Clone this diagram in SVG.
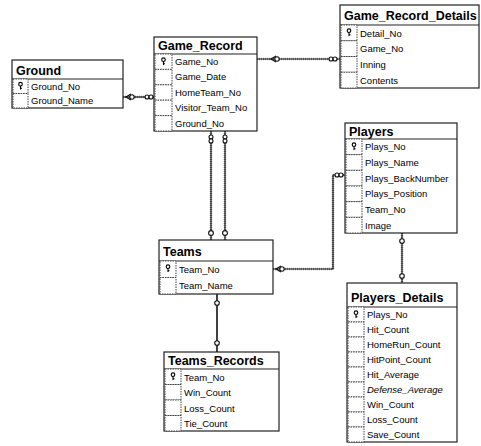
<svg xmlns="http://www.w3.org/2000/svg" width="481" height="446" viewBox="0 0 481 446">
<style>
.box{fill:#fff;stroke:#222;stroke-width:1.2}
.sep{stroke:#222;stroke-width:1.2}
.cell{fill:#fff;stroke:#444;stroke-width:1;stroke-dasharray:1.5 1}
.title{font-family:"Liberation Sans",Arial,sans-serif;font-weight:bold;font-size:12.5px;fill:#000}
.fld{font-family:"Liberation Sans",Arial,sans-serif;font-size:9.5px;fill:#000}
.it{font-style:italic}
.shade{fill:none;stroke:#999;stroke-width:2.6;stroke-dasharray:1 1}
.ln{fill:none;stroke:#111;stroke-width:1.2}
.mk{fill:#fff;stroke:#111;stroke-width:1.1}
</style>
<defs>
<g id="key"><circle cx="0" cy="-1.8" r="1.8" fill="none" stroke="#000" stroke-width="1.1"/><path d="M0,0 V3.5 M0,2.2 H1.5" stroke="#000" stroke-width="1.1" fill="none"/></g>
</defs>

<g id="connectors">
  <!-- Ground - Game_Record -->
  <path class="shade" d="M123,97 H154"/>
  <path class="ln" d="M123,97 H154"/>
  <path class="ln" d="M131,94 L126,97 L131,100"/>
  <circle class="mk" cx="132" cy="97" r="2.2"/>
  <circle class="mk" cx="147" cy="97" r="2"/><circle class="mk" cx="151" cy="97" r="2"/>
  <!-- Game_Record - Game_Record_Details -->
  <path class="shade" d="M257,59 H340"/>
  <path class="ln" d="M257,59 H340"/>
  <path class="ln" d="M276,56 L271,59 L276,62"/>
  <circle class="mk" cx="277" cy="59" r="2.2"/>
  <circle class="mk" cx="331" cy="59" r="2"/><circle class="mk" cx="335" cy="59" r="2"/>
  <!-- Game_Record - Teams (two) -->
  <path class="shade" d="M211,131 V240"/>
  <path class="ln" d="M211,131 V240"/>
  <path class="shade" d="M225,131 V240"/>
  <path class="ln" d="M225,131 V240"/>
  <circle class="mk" cx="211" cy="137" r="2"/><circle class="mk" cx="211" cy="141" r="2"/>
  <circle class="mk" cx="225" cy="137" r="2"/><circle class="mk" cx="225" cy="141" r="2"/>
  <circle class="mk" cx="211" cy="233" r="2.4"/>
  <circle class="mk" cx="225" cy="233" r="2.4"/>
  <!-- Teams - Players -->
  <path class="shade" d="M273,269 H333 V175 H345"/>
  <path class="ln" d="M273,269 H333 V175 H345"/>
  <path class="ln" d="M281,266 L276,269 L281,272"/>
  <circle class="mk" cx="282" cy="269" r="2.2"/>
  <circle class="mk" cx="337" cy="175" r="2"/><circle class="mk" cx="341" cy="175" r="2"/>
  <!-- Players - Players_Details -->
  <path class="shade" d="M402,233 V283"/>
  <path class="ln" d="M402,233 V283"/>
  <circle class="mk" cx="402" cy="241" r="2.3"/>
  <circle class="mk" cx="402" cy="276" r="2.3"/>
  <!-- Teams - Teams_Records -->
  <path class="ln" d="M217,294 V352" style="stroke-width:1.6"/>
  <circle class="mk" cx="217" cy="303" r="2.3"/>
  <circle class="mk" cx="217" cy="343" r="2.3"/>
</g>

<g id="Ground">
  <rect class="box" x="12" y="60" width="111" height="48"/>
  <text class="title" x="16" y="75">Ground</text>
  <line class="sep" x1="12" y1="79" x2="123" y2="79"/>
  <rect class="cell" x="13" y="79" width="15" height="14.5"/>
  <rect class="cell" x="13" y="93.5" width="15" height="14.5"/>
  <use href="#key" x="20.5" y="86"/>
  <text class="fld" x="31" y="89.5">Ground_No</text>
  <text class="fld" x="31" y="104">Ground_Name</text>
</g>

<g id="Game_Record">
  <rect class="box" x="154" y="37" width="103" height="94"/>
  <text class="title" x="158" y="50">Game_Record</text>
  <line class="sep" x1="154" y1="54" x2="257" y2="54"/>
  <rect class="cell" x="155" y="54" width="17" height="15.4"/>
  <rect class="cell" x="155" y="69.4" width="17" height="15.4"/>
  <rect class="cell" x="155" y="84.8" width="17" height="15.4"/>
  <rect class="cell" x="155" y="100.2" width="17" height="15.4"/>
  <rect class="cell" x="155" y="115.6" width="17" height="15.4"/>
  <use href="#key" x="163.5" y="61.5"/>
  <text class="fld" x="175" y="65">Game_No</text>
  <text class="fld" x="175" y="80.4">Game_Date</text>
  <text class="fld" x="175" y="95.8">HomeTeam_No</text>
  <text class="fld" x="175" y="111.2">Visitor_Team_No</text>
  <text class="fld" x="175" y="126.6">Ground_No</text>
</g>

<g id="Game_Record_Details">
  <rect class="box" x="340" y="5" width="139" height="83"/>
  <text class="title" x="344" y="20">Game_Record_Details</text>
  <line class="sep" x1="340" y1="25" x2="479" y2="25"/>
  <rect class="cell" x="341" y="25" width="16" height="15.75"/>
  <rect class="cell" x="341" y="40.75" width="16" height="15.75"/>
  <rect class="cell" x="341" y="56.5" width="16" height="15.75"/>
  <rect class="cell" x="341" y="72.25" width="16" height="15.75"/>
  <use href="#key" x="349" y="32.5"/>
  <text class="fld" x="360" y="36.5">Detail_No</text>
  <text class="fld" x="360" y="52.2">Game_No</text>
  <text class="fld" x="360" y="68">Inning</text>
  <text class="fld" x="360" y="83.7">Contents</text>
</g>

<g id="Players">
  <rect class="box" x="345" y="123" width="112" height="110"/>
  <text class="title" x="349" y="136">Players</text>
  <line class="sep" x1="345" y1="139" x2="457" y2="139"/>
  <rect class="cell" x="346" y="139" width="16" height="15.67"/>
  <rect class="cell" x="346" y="154.67" width="16" height="15.67"/>
  <rect class="cell" x="346" y="170.33" width="16" height="15.67"/>
  <rect class="cell" x="346" y="186" width="16" height="15.67"/>
  <rect class="cell" x="346" y="201.67" width="16" height="15.67"/>
  <rect class="cell" x="346" y="217.33" width="16" height="15.67"/>
  <use href="#key" x="354" y="146.5"/>
  <text class="fld" x="365" y="150.3">Plays_No</text>
  <text class="fld" x="365" y="166">Plays_Name</text>
  <text class="fld" x="365" y="181.6">Plays_BackNumber</text>
  <text class="fld" x="365" y="197.3">Plays_Position</text>
  <text class="fld" x="365" y="213">Team_No</text>
  <text class="fld" x="365" y="228.6">Image</text>
</g>

<g id="Teams">
  <rect class="box" x="159" y="240" width="114" height="54"/>
  <text class="title" x="163" y="256">Teams</text>
  <line class="sep" x1="159" y1="261" x2="273" y2="261"/>
  <rect class="cell" x="160" y="261" width="16" height="16.5"/>
  <rect class="cell" x="160" y="277.5" width="16" height="16.5"/>
  <use href="#key" x="168" y="268.5"/>
  <text class="fld" x="179" y="272.5">Team_No</text>
  <text class="fld" x="179" y="289">Team_Name</text>
</g>

<g id="Teams_Records">
  <rect class="box" x="164" y="352" width="115" height="79"/>
  <text class="title" x="168" y="365">Teams_Records</text>
  <line class="sep" x1="164" y1="369" x2="279" y2="369"/>
  <rect class="cell" x="165" y="369" width="16" height="15.5"/>
  <rect class="cell" x="165" y="384.5" width="16" height="15.5"/>
  <rect class="cell" x="165" y="400" width="16" height="15.5"/>
  <rect class="cell" x="165" y="415.5" width="16" height="15.5"/>
  <use href="#key" x="173" y="376.5"/>
  <text class="fld" x="184" y="380.5">Team_No</text>
  <text class="fld" x="184" y="396">Win_Count</text>
  <text class="fld" x="184" y="411.5">Loss_Count</text>
  <text class="fld" x="184" y="427">Tie_Count</text>
</g>

<g id="Players_Details">
  <rect class="box" x="347" y="283" width="110" height="159"/>
  <text class="title" x="351" y="302">Players_Details</text>
  <line class="sep" x1="347" y1="307" x2="457" y2="307"/>
  <rect class="cell" x="348" y="307" width="16" height="15"/>
  <rect class="cell" x="348" y="322" width="16" height="15"/>
  <rect class="cell" x="348" y="337" width="16" height="15"/>
  <rect class="cell" x="348" y="352" width="16" height="15"/>
  <rect class="cell" x="348" y="367" width="16" height="15"/>
  <rect class="cell" x="348" y="382" width="16" height="15"/>
  <rect class="cell" x="348" y="397" width="16" height="15"/>
  <rect class="cell" x="348" y="412" width="16" height="15"/>
  <rect class="cell" x="348" y="427" width="16" height="15"/>
  <use href="#key" x="356" y="314.5"/>
  <text class="fld" x="367" y="318">Plays_No</text>
  <text class="fld" x="367" y="333">Hit_Count</text>
  <text class="fld" x="367" y="348">HomeRun_Count</text>
  <text class="fld" x="367" y="363">HitPoint_Count</text>
  <text class="fld" x="367" y="378">Hit_Average</text>
  <text class="fld it" x="367" y="393">Defense_Average</text>
  <text class="fld" x="367" y="408">Win_Count</text>
  <text class="fld" x="367" y="423">Loss_Count</text>
  <text class="fld" x="367" y="438">Save_Count</text>
</g>
</svg>
